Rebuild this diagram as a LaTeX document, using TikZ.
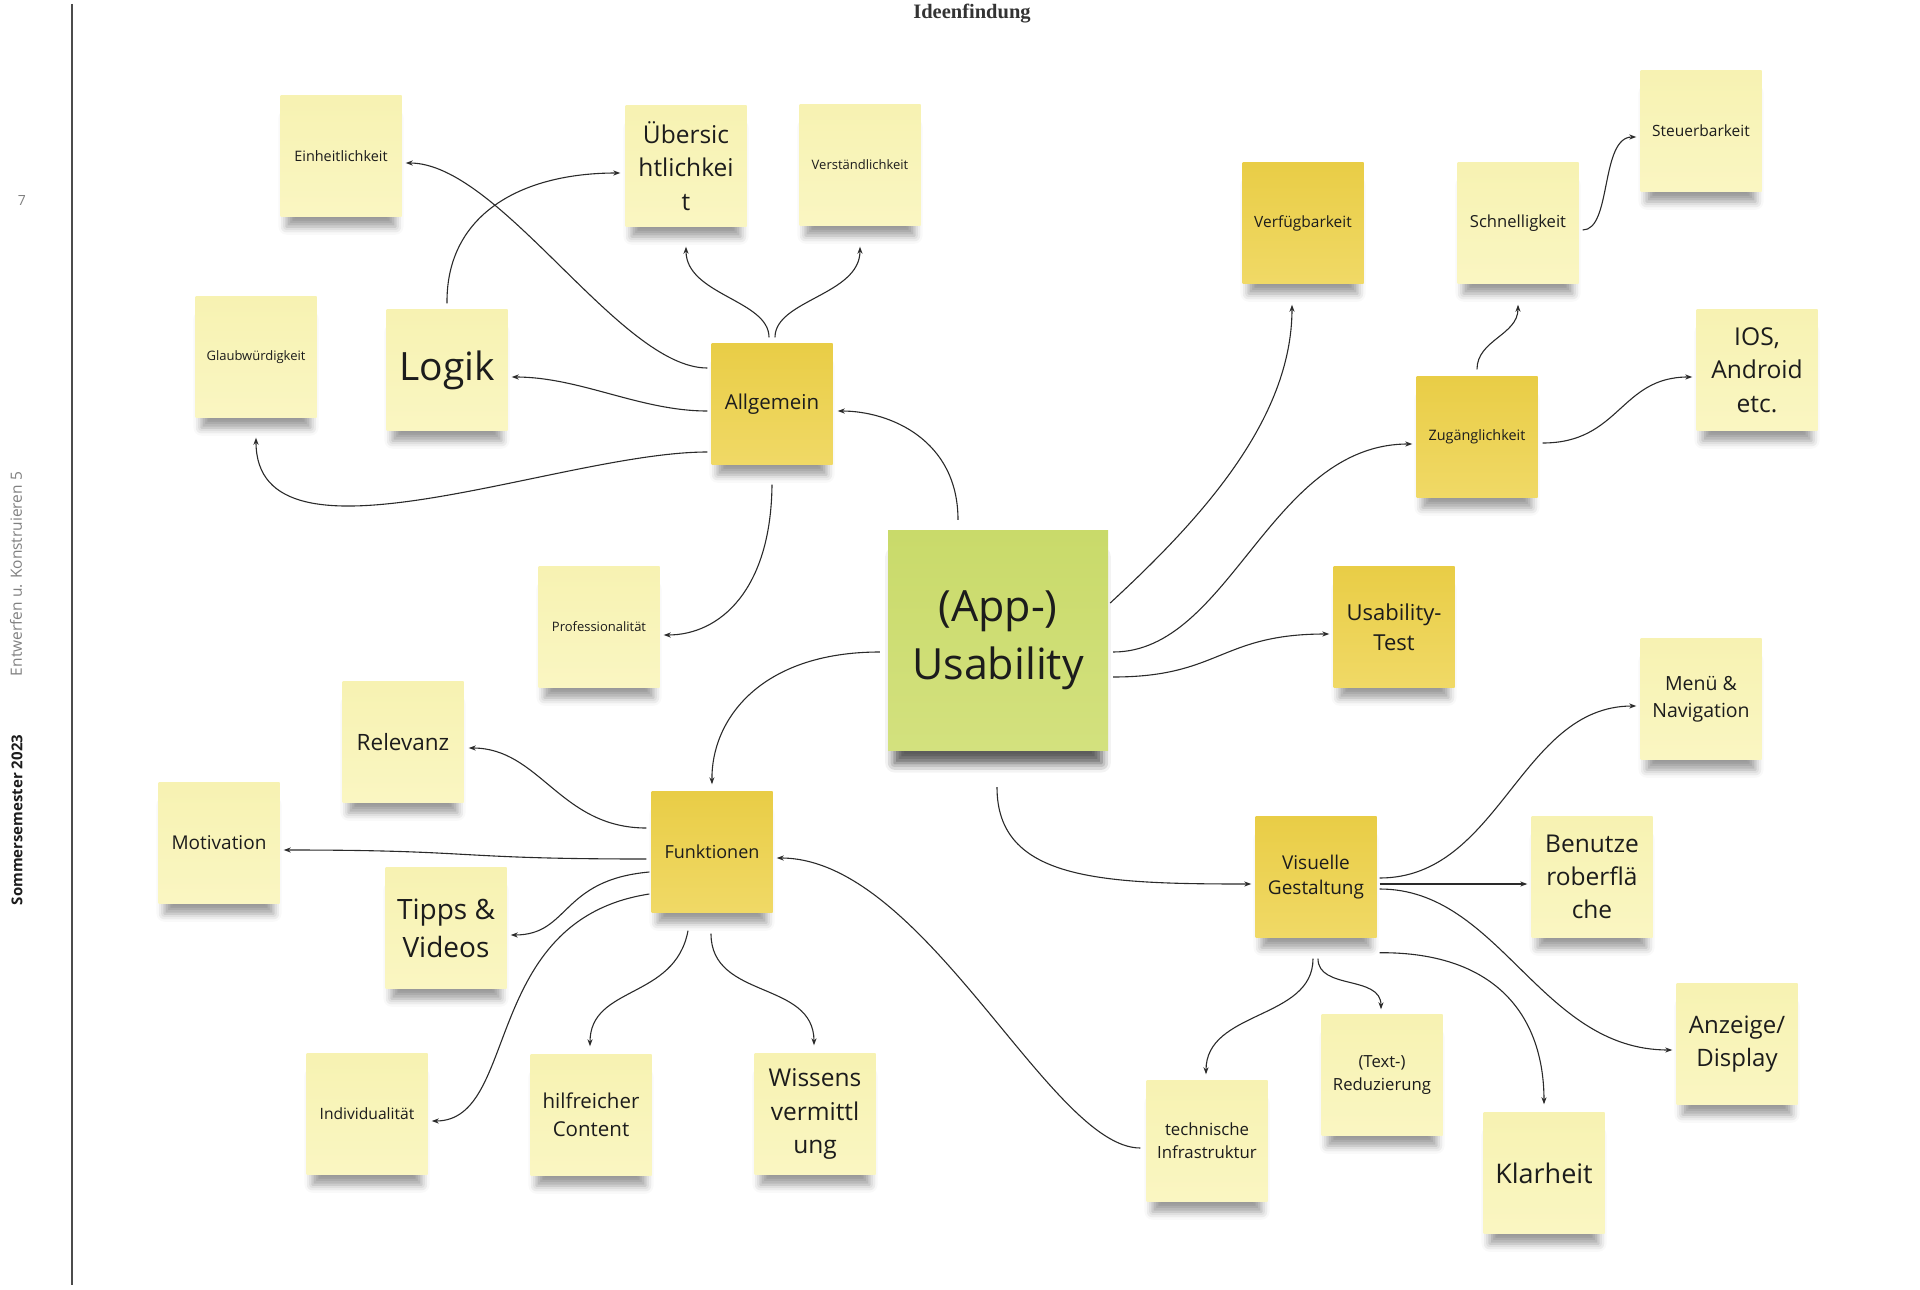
\documentclass[tikz,border=0pt]{standalone}
\usepackage{fontspec}
\setmainfont{Open Sans}
\newfontfamily\titlefont{Liberation Serif}
\usetikzlibrary{arrows.meta,shadows.blur}

\definecolor{paletop}{HTML}{F7F2B2}
\definecolor{palebot}{HTML}{FAF6C2}
\definecolor{darktop}{HTML}{E9CD46}
\definecolor{darkbot}{HTML}{F0D966}
\definecolor{greentop}{HTML}{C9DA6A}
\definecolor{greenbot}{HTML}{D3E17E}
\definecolor{linkcol}{HTML}{2A2A2A}
\definecolor{notetext}{HTML}{1C1C1C}

\newcommand{\notesize}[1]{\fontsize{#1}{\the\dimexpr #1pt*136/100\relax}\selectfont}

\begin{document}
\begin{tikzpicture}[x=1pt,y=-1pt,
    note/.style={minimum width=121pt, minimum height=121pt, inner sep=0pt, align=center, text=notetext,
      blur shadow={shadow xshift=0pt, shadow yshift=-18pt, shadow scale=0.9, shadow blur radius=9pt, shadow opacity=40}},
    pale/.style={note, top color=paletop, bottom color=palebot},
    dark/.style={note, top color=darktop, bottom color=darkbot},
    green/.style={note, minimum width=220pt, minimum height=220pt, top color=greentop, bottom color=greenbot,
      blur shadow={shadow xshift=0pt, shadow yshift=-21pt, shadow scale=0.94, shadow blur radius=10pt, shadow opacity=40}},
    link/.style={draw=linkcol, line width=1.1pt, -{Stealth[length=7pt,width=5pt]}}]
  \useasboundingbox (0,0) rectangle (1920,1290);

  % Marking page margin
  \draw[line width=1.5pt, draw=black!70] (72,4) -- (72,1285);
  \node[font=\notesize{14}, text=black!50] (page) at (22,201) {7};
  \node[rotate=90, font=\notesize{15.5}, text=black!50] (kurs) at (16,574) {Entwerfen u. Konstruieren 5};
  \node[rotate=90, font=\notesize{15}\bfseries, text=notetext] (sem) at (17,820) {Sommersemester 2023};
  \node[font=\titlefont\bfseries\fontsize{20.5}{24}\selectfont, text=black!80] (title) at (972,14) {Ideenfindung};

  % Drawing notes of Allgemein
  \node[pale, font=\notesize{14.4}] (einh) at (341,156) {Einheitlichkeit};
  \node[pale, font=\notesize{24.5}] (uebers) at (686,166) {Übersic\\htlichkei\\t};
  \node[pale, font=\notesize{13}] (verst) at (860,165) {Verständlichkeit};
  \node[pale, font=\notesize{13}] (glaub) at (256,357) {Glaubwürdigkeit};
  \node[pale, font=\notesize{39}] (logik) at (447,370) {Logik};
  \node[dark, font=\notesize{20.5}] (alg) at (772,404) {Allgemein};
  \node[pale, font=\notesize{13}] (prof) at (599,627) {Professionalität};

  % Drawing notes of Funktionen
  \node[pale, font=\notesize{22.5}] (rel) at (403,742) {Relevanz};
  \node[pale, font=\notesize{19}] (motiv) at (219,843) {Motivation};
  \node[dark, font=\notesize{18}] (funk) at (712,852) {Funktionen};
  \node[pale, font=\notesize{28}] (tipps) at (446,928) {Tipps \&\\Videos};
  \node[pale, font=\notesize{15.6}] (indiv) at (367,1114) {Individualität};
  \node[pale, font=\notesize{20.5}] (hilf) at (591,1115) {hilfreicher\\Content};
  \node[pale, font=\notesize{24.5}] (wiss) at (815,1114) {Wissens\\vermittl\\ung};

  % Drawing central note
  \node[green, font=\notesize{43}] (app) at (998,640) {(App-)\\Usability};

  % Drawing notes on the right
  \node[dark, font=\notesize{15.5}] (verf) at (1303,223) {Verfügbarkeit};
  \node[pale, font=\notesize{16.6}] (schn) at (1518,223) {Schnelligkeit};
  \node[pale, font=\notesize{15.5}] (steu) at (1701,131) {Steuerbarkeit};
  \node[pale, font=\notesize{24.6}] (ios) at (1757,370) {IOS,\\Android\\etc.};
  \node[dark, font=\notesize{14.4}] (zug) at (1477,437) {Zugänglichkeit};
  \node[dark, font=\notesize{22}] (utest) at (1394,627) {Usability-\\Test};

  % Drawing notes of Visuelle Gestaltung
  \node[pale, font=\notesize{19.5}] (menu) at (1701,699) {Menü \&\\Navigation};
  \node[dark, font=\notesize{19}] (visu) at (1316,877) {Visuelle\\Gestaltung};
  \node[pale, font=\notesize{24.5}] (benu) at (1592,877) {Benutze\\roberflä\\che};
  \node[pale, font=\notesize{24}] (anz) at (1737,1044) {Anzeige/\\Display};
  \node[pale, font=\notesize{27}] (klar) at (1544,1173) {Klarheit};
  \node[pale, font=\notesize{16.7}] (redu) at (1382,1075) {(Text-)\\Reduzierung};
  \node[pale, font=\notesize{16.8}] (tech) at (1207,1141) {technische\\Infrastruktur};

  % Drawing links of Allgemein
  \draw[link] ([xshift=-4pt,yshift=36pt]alg.west) .. controls (620,368) and (500,163) .. ([xshift=4pt,yshift=-7pt]einh.east);
  \draw[link] ([yshift=6pt]logik.north) .. controls (446,215) and (520,173) .. ([xshift=-5pt,yshift=-7pt]uebers.west);
  \draw[link] ([xshift=-4pt,yshift=-7pt]alg.west) .. controls (640,411) and (580,377) .. ([xshift=4pt,yshift=-7pt]logik.east);
  \draw[link] ([xshift=-4pt,yshift=-48pt]alg.west) .. controls (560,452) and (256,580) .. ([yshift=-20pt]glaub.south);
  \draw[link] ([xshift=-3pt,yshift=6pt]alg.north) .. controls (769,300) and (686,295) .. ([yshift=-20pt]uebers.south);
  \draw[link] ([xshift=3pt,yshift=6pt]alg.north) .. controls (775,300) and (860,295) .. ([yshift=-21pt]verst.south);
  \draw[link] ([xshift=-40pt,yshift=10pt]app.north) .. controls (958,440) and (890,411) .. ([xshift=5pt,yshift=-7pt]alg.east);
  \draw[link] ([yshift=-20pt]alg.south) .. controls (771,590) and (720,635) .. ([xshift=4pt,yshift=-8pt]prof.east);

  % Drawing links of Funktionen
  \draw[link] ([xshift=-8pt,yshift=-12pt]app.west) .. controls (760,652) and (711,720) .. ([yshift=7pt]funk.north);
  \draw[link] ([xshift=-5pt,yshift=24pt]funk.west) .. controls (560,828) and (540,748) .. ([xshift=5pt,yshift=-6pt]rel.east);
  \draw[link] ([xshift=-5pt,yshift=-7pt]funk.west) .. controls (450,859) and (480,850) .. ([xshift=4pt,yshift=-7pt]motiv.east);
  \draw[link] ([xshift=-2pt,yshift=-20pt]funk.west) .. controls (560,880) and (570,935) .. ([xshift=4pt,yshift=-7pt]tipps.east);
  \draw[link] ([xshift=-2pt,yshift=-42pt]funk.west) .. controls (480,920) and (520,1121) .. ([xshift=4pt,yshift=-7pt]indiv.east);
  \draw[link] ([xshift=-24pt,yshift=-18pt]funk.south) .. controls (675,1000) and (590,985) .. ([xshift=-1pt,yshift=8pt]hilf.north);
  \draw[link] ([xshift=-1pt,yshift=-21pt]funk.south) .. controls (711,1000) and (814,980) .. ([xshift=-1pt,yshift=8pt]wiss.north);
  \draw[link] ([xshift=-6pt,yshift=-7pt]tech.west) .. controls (1050,1148) and (925,858) .. ([xshift=4pt,yshift=-6pt]funk.east);

  % Drawing links on the right
  \draw[link] ([xshift=2pt,yshift=37pt]app.east) .. controls (1200,520) and (1292,420) .. ([xshift=-11pt,yshift=-21pt]verf.south);
  \draw[link] ([xshift=5pt,yshift=-12pt]app.east) .. controls (1230,652) and (1270,444) .. ([xshift=-4pt,yshift=-7pt]zug.west);
  \draw[link] ([xshift=5pt,yshift=-37pt]app.east) .. controls (1220,677) and (1220,634) .. ([xshift=-4pt,yshift=-7pt]utest.west);
  \draw[link] ([yshift=7pt]zug.north) .. controls (1477,340) and (1518,335) .. ([yshift=-21pt]schn.south);
  \draw[link] ([xshift=5pt,yshift=-6pt]zug.east) .. controls (1620,443) and (1620,377) .. ([xshift=-4pt,yshift=-7pt]ios.west);
  \draw[link] ([xshift=4pt,yshift=-7pt]schn.east) .. controls (1612,230) and (1600,137) .. ([xshift=-4pt,yshift=-6pt]steu.west);

  % Drawing links of Visuelle Gestaltung
  \draw[link] ([xshift=-1pt,yshift=-37pt]app.south) .. controls (997,880) and (1100,884) .. ([xshift=-4pt,yshift=-7pt]visu.west);
  \draw[link] ([xshift=3pt,yshift=-1pt]visu.east) .. controls (1500,878) and (1520,706) .. ([xshift=-4pt,yshift=-7pt]menu.west);
  \draw[link, line width=1.8pt] ([xshift=3pt,yshift=-7pt]visu.east) -- ([xshift=-4pt,yshift=-7pt]benu.west);
  \draw[link] ([xshift=3pt,yshift=-12pt]visu.east) .. controls (1500,889) and (1540,1050) .. ([xshift=-4pt,yshift=-6pt]anz.west);
  \draw[link] ([xshift=3pt,yshift=-15pt]visu.south east) .. controls (1500,952) and (1544,1020) .. ([yshift=8pt]klar.north);
  \draw[link] ([xshift=-3pt,yshift=-21pt]visu.south) .. controls (1313,1020) and (1206,1010) .. ([xshift=-1pt,yshift=6pt]tech.north);
  \draw[link] ([xshift=2pt,yshift=-21pt]visu.south) .. controls (1318,990) and (1381,975) .. ([xshift=-1pt,yshift=5pt]redu.north);
\end{tikzpicture}
\end{document}
